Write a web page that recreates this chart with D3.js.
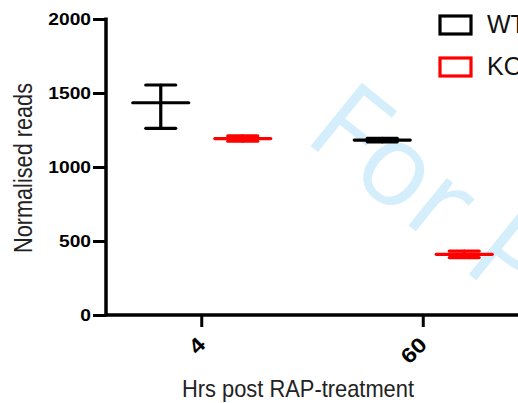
<!DOCTYPE html>
<html>
<head>
<meta charset="utf-8">
<script src="https://cdn.jsdelivr.net/npm/d3@7"></script>
<style>
  body { margin: 0; background: #fff; }
  svg { display: block; font-family: "Liberation Sans", Arial, sans-serif; }
  .tick-label { font-weight: bold; fill: #000; }
  .axis-title { fill: #222; }
</style>
</head>
<body>
<div class="mainview"></div>
<script>

// data ////////////////////////////////////

const hours = ["4", "60"];
const groups = ["WT", "KO"];
const wtMean = [1434, 1182];
const wtLow = [1261, 1170];
const wtHigh = [1554, 1194];
const koMean = [1192, 410];
const koLow = [1174, 388];
const koHigh = [1210, 432];
const yTicks = [0, 500, 1000, 1500, 2000];

const colors = { WT: "#000000", KO: "#ff0000" };

const dim = { width: 518, height: 403 };
const margin = { top: 19, right: 0, bottom: 88, left: 106 };
const stretch = 1.2;

const svg = d3.select(".mainview").append("svg")
    .attr("width", dim.width)
    .attr("height", dim.height);

// watermark
svg.append("text")
    .attr("transform", "translate(302,139) rotate(39)")
    .style("font-size", "114px")
    .style("font-family", "'Open Sans', sans-serif")
    .style("font-weight", 400)
    .style("fill", "#d5eefb")
    .text("For Peer Review");

const y = d3.scaleLinear()
    .domain([0, 2000])
    .range([dim.height - margin.bottom, margin.top]);

const x = d3.scaleBand()
    .domain(hours)
    .range([91, 534]);

const xSub = d3.scaleBand()
    .domain(groups)
    .range([-82, 82]);

const rows = [];
hours.forEach((h, i) => {
    rows.push({ hour: h, group: "WT", mean: wtMean[i], low: wtLow[i], high: wtHigh[i] });
    rows.push({ hour: h, group: "KO", mean: koMean[i], low: koLow[i], high: koHigh[i] });
});

// axes

const yAxis = d3.axisLeft(y)
    .tickValues(yTicks)
    .tickFormat(d3.format("d"))
    .tickSize(13)
    .tickPadding(2);

svg.append("g")
    .attr("transform", `translate(${margin.left}, 0)`)
    .call(yAxis)
    .call(g => g.select(".domain").remove())
    .call(g => g.selectAll(".tick line").attr("stroke", "#000").attr("stroke-width", 3))
    .call(g => g.selectAll(".tick text")
        .attr("class", "tick-label")
        .style("font-size", "16px")
        .attr("x", -15 / stretch)
        .attr("dy", "0.36em")
        .attr("transform", `scale(${stretch},1)`));

svg.append("line")
    .attr("x1", margin.left).attr("x2", margin.left)
    .attr("y1", y(2000) - 1.5).attr("y2", y(0) + 1.5)
    .attr("stroke", "#000").attr("stroke-width", 3.5);

svg.append("line")
    .attr("x1", margin.left - 1.5).attr("x2", dim.width)
    .attr("y1", y(0)).attr("y2", y(0))
    .attr("stroke", "#000").attr("stroke-width", 3.5);

const xTicks = svg.append("g").selectAll("g")
    .data(hours)
    .join("g")
    .attr("transform", d => `translate(${x(d) + x.bandwidth() / 2}, ${y(0)})`);

xTicks.append("line")
    .attr("y1", 0).attr("y2", 12)
    .attr("stroke", "#000").attr("stroke-width", 3);

xTicks.append("text")
    .attr("class", "tick-label")
    .attr("text-anchor", "end")
    .attr("transform", "translate(5, 31) rotate(-45) scale(1.15,1)")
    .style("font-size", "21px")
    .text(d => d);

svg.append("text")
    .attr("class", "axis-title")
    .attr("x", 182)
    .attr("y", 397)
    .attr("textLength", 232)
    .attr("lengthAdjust", "spacingAndGlyphs")
    .style("font-size", "24px")
    .text("Hrs post RAP-treatment");

svg.append("text")
    .attr("class", "axis-title")
    .attr("transform", `translate(32, 253) rotate(-90)`)
    .attr("textLength", 170)
    .attr("lengthAdjust", "spacingAndGlyphs")
    .style("font-size", "26px")
    .text("Normalised reads");

// error bars

const marks = svg.append("g").selectAll("g")
    .data(rows)
    .join("g")
    .attr("transform", d => `translate(${x(d.hour) + x.bandwidth() / 2 + xSub(d.group) + xSub.bandwidth() / 2}, 0)`)
    .attr("stroke", d => colors[d.group])
    .attr("stroke-width", 3.2)
    .attr("stroke-linecap", "round");

marks.append("line")
    .attr("y1", d => y(d.low))
    .attr("y2", d => y(d.high));

marks.append("line")
    .attr("x1", -15).attr("x2", 15)
    .attr("y1", d => y(d.high))
    .attr("y2", d => y(d.high));

marks.append("line")
    .attr("x1", -15).attr("x2", 15)
    .attr("y1", d => y(d.low))
    .attr("y2", d => y(d.low));

marks.append("line")
    .attr("x1", -28).attr("x2", 28)
    .attr("y1", d => y(d.mean))
    .attr("y2", d => y(d.mean));

// legend

const legend = svg.append("g").selectAll("g")
    .data(groups)
    .join("g")
    .attr("transform", (d, i) => `translate(440, ${16 + i * 42})`);

legend.append("rect")
    .attr("width", 31).attr("height", 18)
    .attr("fill", "none")
    .attr("stroke", d => colors[d])
    .attr("stroke-width", 3.2);

legend.append("text")
    .attr("x", 47).attr("y", 17)
    .style("font-size", "25px")
    .attr("fill", "#111")
    .text(d => d);

</script>
</body>
</html>
